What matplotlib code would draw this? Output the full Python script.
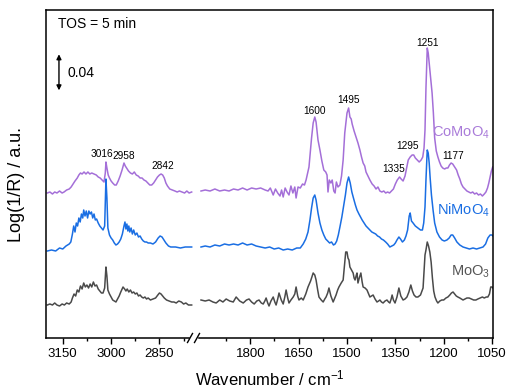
import numpy as np
import matplotlib
matplotlib.use("Agg")
import matplotlib.pyplot as plt
from matplotlib.ticker import FixedLocator, NullFormatter

plt.rcParams['font.family'] = ['Liberation Sans', 'DejaVu Sans']
plt.rcParams['mathtext.fontset'] = 'custom'
plt.rcParams['mathtext.rm'] = 'Liberation Sans'
plt.rcParams['mathtext.it'] = 'Liberation Sans:italic'

# ---------------- data (wavenumber / cm-1, Log(1/R) in arbitrary units) -------------
como_left_w = [3198, 3190, 3182, 3175, 3168, 3160, 3152, 3146, 3138, 3130, 3124, 3118, 3112, 3105,
               3100, 3095, 3090, 3084, 3078, 3072, 3066, 3060, 3053, 3046, 3040, 3034, 3028, 3022,
               3018, 3016, 3013, 3009, 3005, 3000, 2995, 2989, 2984, 2978, 2972, 2966, 2960, 2956,
               2952, 2946, 2940, 2934, 2928, 2922, 2916, 2910, 2904, 2898, 2892, 2886, 2880, 2874,
               2868, 2862, 2856, 2850, 2845, 2840, 2835, 2830, 2825, 2818, 2810, 2802, 2795, 2788,
               2780, 2772, 2765, 2758, 2750]
como_left_h = [145, 146, 144, 146, 145, 147, 145, 146, 148, 149, 151, 154, 157, 160,
               163, 165, 164, 166, 164, 166, 164, 165, 164, 163, 161, 160, 158, 156,
               165, 176, 170, 163, 160, 157, 155, 153, 153, 157, 162, 168, 175, 172,
               170, 167, 165, 164, 166, 163, 162, 160, 160, 158, 157, 155, 153, 153,
               155, 158, 161, 163, 164, 163, 160, 155, 152, 149, 148, 147, 146, 147,
               146, 145, 147, 145, 146]

como_right_w = [1953, 1940, 1925, 1910, 1895, 1880, 1866, 1852, 1838, 1824, 1810, 1796, 1782, 1768,
                1754, 1745, 1738, 1729, 1722, 1715, 1708, 1703, 1698, 1692, 1686, 1680, 1674, 1668,
                1662, 1658, 1652, 1645, 1638, 1632, 1627, 1618, 1610, 1605, 1600, 1596, 1590, 1584,
                1578, 1572, 1566, 1562, 1559, 1555, 1550, 1546, 1541, 1537, 1533, 1528, 1522, 1517,
                1512, 1507, 1500, 1495, 1491, 1487, 1484, 1478, 1472, 1466, 1460, 1455, 1450, 1445,
                1441, 1435, 1429, 1422, 1416, 1410, 1404, 1398, 1392, 1386, 1380, 1374, 1368, 1362,
                1356, 1350, 1344, 1337, 1332, 1326, 1320, 1315, 1310, 1304, 1298, 1293, 1288, 1282,
                1276, 1270, 1265, 1261, 1258, 1255, 1252, 1251, 1248, 1244, 1240, 1236, 1232, 1228,
                1223, 1218, 1213, 1208, 1203, 1197, 1192, 1187, 1182, 1177, 1172, 1166, 1160, 1155,
                1150, 1145, 1140, 1134, 1128, 1122, 1116, 1110, 1104, 1098, 1092, 1086, 1080, 1074,
                1069, 1064, 1060, 1056, 1052, 1048]
como_right_h = [147, 148, 147, 149, 147, 148, 147, 149, 148, 150, 148, 150, 149, 150,
                148, 147, 150, 143, 149, 145, 142, 148, 141, 150, 146, 143, 152, 145,
                151, 140, 151, 150, 154, 153, 158, 171, 200, 215, 221, 216, 198, 188,
                177, 168, 166, 163, 146, 158, 155, 158, 147, 145, 156, 151, 153, 162,
                178, 205, 225, 230, 221, 219, 214, 207, 201, 195, 188, 181, 175, 172,
                166, 162, 158, 154, 152, 149, 151, 147, 146, 147, 145, 146, 145, 147,
                149, 154, 158, 161, 159, 157, 162, 170, 178, 181, 183, 183, 180, 178,
                176, 178, 181, 190, 208, 250, 280, 290, 285, 272, 258, 245, 225, 200,
                187, 181, 176, 172, 170, 169, 170, 170, 173, 175, 174, 171, 168, 163,
                159, 154, 151, 149, 147, 146, 145, 146, 144, 145, 143, 144, 142, 144,
                146, 150, 155, 161, 167, 171]

nimo_left_w = [3198, 3185, 3172, 3160, 3150, 3140, 3130, 3125, 3120, 3116, 3112, 3108, 3104, 3100,
               3096, 3092, 3088, 3085, 3081, 3077, 3073, 3069, 3065, 3061, 3057, 3053, 3049, 3045,
               3040, 3035, 3030, 3025, 3020, 3016, 3013, 3010, 3005, 3000, 2995, 2990, 2985, 2980,
               2975, 2970, 2965, 2960, 2957, 2954, 2951, 2948, 2945, 2942, 2938, 2934, 2930, 2925,
               2920, 2915, 2910, 2905, 2900, 2895, 2890, 2885, 2878, 2870, 2862, 2854, 2848, 2842,
               2836, 2830, 2822, 2815, 2800, 2785, 2770, 2750]
nimo_left_h = [87, 88, 87, 90, 89, 92, 94, 96, 104, 112, 106, 115, 112, 120,
               116, 124, 120, 128, 122, 127, 120, 127, 124, 126, 120, 124, 118, 119,
               115, 112, 110, 108, 112, 159, 140, 110, 103, 100, 98, 95, 93, 94,
               96, 99, 104, 112, 116, 109, 114, 107, 112, 106, 110, 104, 108, 103,
               105, 101, 102, 99, 97, 96, 96, 95, 95, 94, 96, 100, 102, 101,
               98, 95, 92, 91, 91, 90, 91, 91]

nimo_right_w = [1953, 1940, 1925, 1910, 1895, 1880, 1866, 1852, 1838, 1824, 1810, 1796, 1782, 1768,
                1754, 1740, 1726, 1712, 1698, 1684, 1670, 1656, 1645, 1636, 1628, 1621, 1615, 1610,
                1605, 1600, 1596, 1590, 1584, 1578, 1572, 1566, 1560, 1554, 1548, 1542, 1537, 1532,
                1527, 1522, 1516, 1510, 1505, 1500, 1495, 1490, 1485, 1480, 1474, 1469, 1463, 1458,
                1453, 1447, 1441, 1435, 1429, 1423, 1417, 1411, 1405, 1399, 1393, 1387, 1380, 1374,
                1367, 1361, 1355, 1350, 1345, 1339, 1334, 1328, 1322, 1317, 1312, 1307, 1304, 1300,
                1295, 1288, 1280, 1272, 1266, 1262, 1258, 1255, 1252, 1251, 1248, 1245, 1242, 1238,
                1233, 1228, 1221, 1213, 1205, 1198, 1190, 1183, 1177, 1172, 1166, 1159, 1150, 1140,
                1130, 1120, 1109, 1098, 1088, 1078, 1070, 1063, 1056, 1050, 1047]
nimo_right_h = [91, 92, 91, 93, 92, 94, 93, 94, 93, 95, 93, 94, 92, 91,
                90, 91, 89, 90, 88, 89, 88, 90, 90, 94, 99, 106, 118, 130,
                140, 143, 138, 125, 115, 108, 103, 99, 97, 95, 96, 93, 94, 97,
                103, 111, 121, 133, 143, 155, 161, 155, 146, 140, 133, 128, 124, 121,
                118, 115, 112, 110, 108, 106, 105, 104, 102, 101, 99, 98, 96, 94,
                91, 92, 93, 95, 98, 101, 99, 96, 98, 102, 108, 122, 125, 117,
                115, 112, 110, 108, 108, 115, 131, 158, 181, 188, 185, 175, 160, 143,
                128, 115, 106, 101, 98, 97, 98, 100, 103, 103, 100, 96, 93, 91,
                90, 89, 90, 89, 90, 91, 94, 100, 103, 103, 102]

moo3_left_w = [3198, 3190, 3182, 3175, 3168, 3160, 3152, 3145, 3138, 3130, 3124, 3120, 3115, 3110,
               3105, 3100, 3095, 3090, 3085, 3080, 3075, 3070, 3065, 3060, 3055, 3050, 3045, 3040,
               3035, 3030, 3025, 3020, 3016, 3013, 3010, 3005, 3000, 2995, 2990, 2985, 2980, 2975,
               2970, 2963, 2958, 2954, 2950, 2945, 2940, 2935, 2930, 2925, 2920, 2915, 2910, 2905,
               2900, 2895, 2890, 2885, 2878, 2870, 2862, 2855, 2850, 2845, 2840, 2835, 2828, 2820,
               2812, 2805, 2798, 2790, 2782, 2775, 2768, 2760, 2750]
moo3_left_h = [33, 34, 33, 35, 33, 32, 34, 33, 35, 34, 36, 40, 44, 42,
               48, 46, 52, 49, 55, 51, 53, 50, 54, 51, 56, 52, 53, 49,
               47, 45, 45, 50, 71, 62, 48, 44, 41, 38, 37, 36, 39, 42,
               46, 51, 49, 47, 49, 46, 48, 45, 46, 44, 45, 42, 43, 41,
               40, 41, 39, 40, 38, 39, 40, 43, 45, 44, 42, 40, 38, 37,
               36, 36, 35, 37, 36, 34, 35, 33, 33]

moo3_right_w = [1953, 1940, 1928, 1916, 1906, 1895, 1885, 1875, 1864, 1853, 1844, 1833, 1822, 1812,
                1804, 1796, 1788, 1780, 1773, 1766, 1760, 1755, 1751, 1746, 1742, 1736, 1729, 1724,
                1720, 1715, 1711, 1704, 1698, 1693, 1689, 1684, 1680, 1674, 1667, 1662, 1658, 1653,
                1649, 1642, 1636, 1628, 1621, 1613, 1605, 1600, 1596, 1591, 1587, 1580, 1574, 1569,
                1565, 1560, 1556, 1550, 1543, 1538, 1534, 1529, 1525, 1518, 1512, 1508, 1504, 1500,
                1497, 1494, 1491, 1486, 1481, 1478, 1475, 1471, 1469, 1466, 1462, 1457, 1453, 1450,
                1444, 1438, 1433, 1429, 1424, 1419, 1413, 1407, 1402, 1398, 1393, 1388, 1382, 1376,
                1371, 1367, 1363, 1360, 1356, 1351, 1345, 1339, 1333, 1326, 1320, 1314, 1308, 1302,
                1297, 1292, 1286, 1280, 1272, 1264, 1258, 1255, 1251, 1247, 1243, 1239, 1235, 1231,
                1227, 1222, 1218, 1212, 1206, 1200, 1193, 1187, 1181, 1176, 1171, 1166, 1161, 1156,
                1150, 1145, 1140, 1134, 1128, 1121, 1114, 1107, 1100, 1094, 1087, 1080, 1074, 1068,
                1063, 1058, 1054, 1050, 1047]
moo3_right_h = [38, 37, 38, 36, 35, 38, 36, 39, 37, 36, 41, 37, 35, 38,
                39, 36, 34, 37, 38, 35, 34, 37, 40, 35, 32, 37, 41, 36,
                33, 39, 45, 38, 34, 41, 48, 40, 35, 38, 41, 44, 51, 42,
                38, 40, 38, 44, 51, 57, 65, 63, 58, 48, 41, 38, 36, 39,
                41, 45, 50, 42, 36, 40, 43, 48, 51, 55, 58, 72, 86, 86,
                80, 78, 71, 68, 65, 60, 58, 63, 65, 55, 60, 65, 56, 51,
                50, 48, 44, 41, 42, 43, 39, 36, 37, 38, 36, 35, 37, 38,
                36, 35, 39, 43, 38, 35, 41, 50, 42, 38, 39, 41, 46, 53,
                47, 43, 41, 41, 43, 50, 83, 88, 96, 92, 86, 76, 60, 47,
                41, 37, 35, 37, 38, 38, 40, 41, 43, 45, 46, 44, 42, 41,
                40, 39, 38, 39, 40, 40, 39, 38, 38, 39, 40, 41, 40, 41,
                41, 44, 51, 51, 50]

peak_labels = ["3016", "2958", "2842", "1600", "1495", "1335", "1295", "1251", "1177"]
peak_label_x = [3028, 2960, 2839, 1600, 1495, 1354, 1311, 1251, 1171]
peak_label_y = [184, 182, 172, 227, 238, 169, 192, 295, 182]

series_names = ["CoMoO$_4$", "NiMoO$_4$", "MoO$_3$"]
series_label_y = [205, 128, 66]
series_colors = ["#a46fd8", "#1a6ee3", "#4a4a4a"]
series_text_colors = ["#a97bd9", "#1a6ee3", "#555555"]

major_ticks = [3150, 3000, 2850, 1800, 1650, 1500, 1350, 1200, 1050]
minor_ticks = [3075, 2925, 2775, 1875, 1725, 1575, 1425, 1275, 1125]

# ---------------- broken-axis scale ----------------
GAP = 768.0


def fwd(w):
    w = np.asarray(w, dtype=float)
    return np.where(w > 2300, w - GAP, w)


def inv(m):
    m = np.asarray(m, dtype=float)
    return np.where(m > 1967, m + GAP, m)


fig = plt.figure(figsize=(5.07, 3.92), dpi=100)
ax = fig.add_axes([46 / 507, (392 - 338) / 392, 447 / 507, 328 / 392])
ax.set_xscale('function', functions=(fwd, inv))

series = [
    (como_left_w, como_left_h, como_right_w, como_right_h),
    (nimo_left_w, nimo_left_h, nimo_right_w, nimo_right_h),
    (moo3_left_w, moo3_left_h, moo3_right_w, moo3_right_h),
]
for (lw_, lh_, rw_, rh_), c in zip(series, series_colors):
    ax.plot(lw_, lh_, color=c, lw=1.1)
    ax.plot(rw_, rh_, color=c, lw=1.1)

ax.set_xlim(3202, 1047)
ax.set_ylim(0, 328)

ax.xaxis.set_major_locator(FixedLocator(major_ticks))
ax.xaxis.set_minor_locator(FixedLocator(minor_ticks))
ax.xaxis.set_minor_formatter(NullFormatter())
ax.set_xticklabels([str(t) for t in major_ticks])
ax.set_yticks([])
ax.tick_params(axis='x', which='major', direction='out', length=4, width=1, labelsize=9.5, pad=3)
ax.tick_params(axis='x', which='minor', direction='out', length=2.5, width=1)
for s in ax.spines.values():
    s.set_linewidth(1.1)

ax.set_xlabel("Wavenumber / cm$^{-1}$", fontsize=12, labelpad=6)
fig.text(17 / 507, 1 - 185 / 392, "Log(1/R) / a.u.", rotation=90, fontsize=13,
         ha='center', va='center')

# peak annotations
for t, x, y in zip(peak_labels, peak_label_x, peak_label_y):
    ax.text(x, y, t, fontsize=7.3, ha='center', va='center')

# series names
for name, y, c in zip(series_names, series_label_y, series_text_colors):
    ax.text(1057, y, name, fontsize=10.5, ha='right', va='center', color=c)

# TOS and scale bar
ax.text(0.027, 0.957, "TOS = 5 min", transform=ax.transAxes, fontsize=10, ha='left', va='center')
ax.annotate('', xy=(0.029, 0.865), xytext=(0.029, 0.755), xycoords='axes fraction',
            textcoords='axes fraction',
            arrowprops=dict(arrowstyle='<|-|>', color='black', lw=1.0, mutation_scale=7,
                            shrinkA=0, shrinkB=0))
ax.text(0.047, 0.808, "0.04", transform=ax.transAxes, fontsize=10, ha='left', va='center')

# axis break marks
bx1, bx2 = (190 - 46) / 447, (197 - 46) / 447
ax.plot([bx1 + 0.003, bx2 - 0.003], [0, 0], color='white', lw=2.5, transform=ax.transAxes,
        clip_on=False, zorder=5)
dx, dy = 2.5 / 447, 4.5 / 328
for bx in (bx1, bx2):
    ax.plot([bx - dx, bx + dx], [-dy, dy], color='black', lw=1.0, transform=ax.transAxes,
            clip_on=False, zorder=6)

fig.savefig("out.png", dpi=100)
